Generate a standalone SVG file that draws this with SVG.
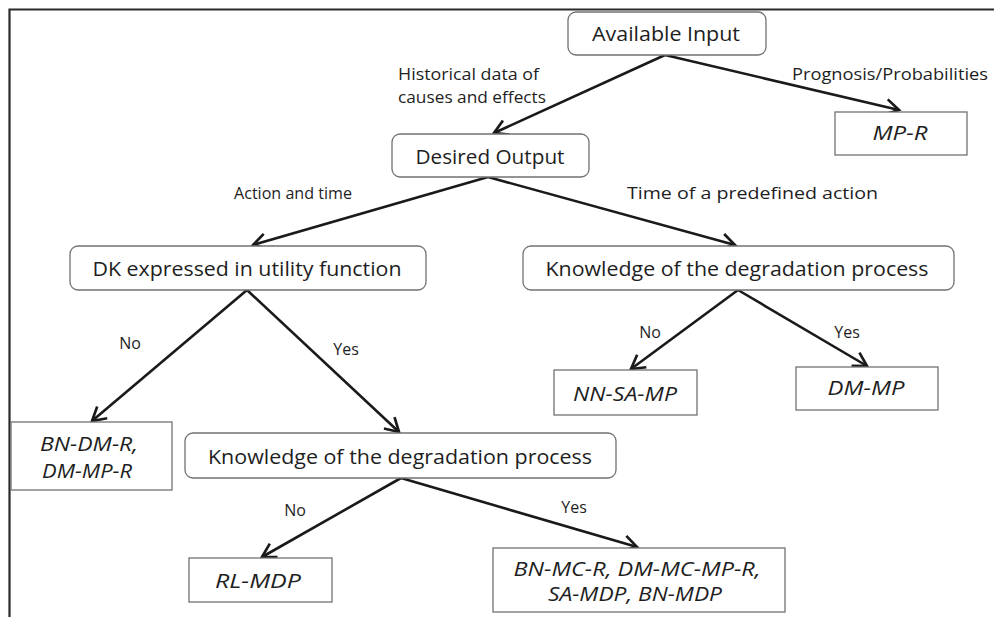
<svg xmlns="http://www.w3.org/2000/svg" width="994" height="617" viewBox="0 0 994 617">
<style>
.rbox{fill:#fff;stroke:#727272;stroke-width:1.3}
.box{fill:#fff;stroke:#727272;stroke-width:1.3}
.t{font-family:"Open Sans","Noto Sans",sans-serif;font-size:20px;fill:#1e1e1e;text-anchor:middle;dominant-baseline:central}
.ti{font-family:"Open Sans","Noto Sans",sans-serif;font-size:20px;font-style:italic;fill:#1e1e1e;text-anchor:middle;dominant-baseline:central}
.l{font-family:"Open Sans","Noto Sans",sans-serif;font-size:16px;fill:#1e1e1e;dominant-baseline:central}
.lc{font-family:"Open Sans","Noto Sans",sans-serif;font-size:16px;fill:#1e1e1e;dominant-baseline:central;text-anchor:middle}
.c{stroke:#1a1a1a;stroke-width:2.6;fill:none;marker-end:url(#ah)}
</style>
<defs>
<marker id="ah" viewBox="0 0 12 12" refX="10.5" refY="6" markerWidth="6.5" markerHeight="6.5" markerUnits="strokeWidth" orient="auto" overflow="visible">
<path d="M1,0.5 L10.5,6 L1,11.5" fill="none" stroke="#1a1a1a" stroke-width="1.9"/>
</marker>
</defs>
<rect width="994" height="617" fill="#fff"/>
<path d="M9.5,617 V9.5 H994" fill="none" stroke="#2a2a2a" stroke-width="2.2"/>
<g id="connectors">
<line class="c" x1="665" y1="55" x2="494" y2="133"/>
<line class="c" x1="665" y1="55" x2="899" y2="110"/>
<line class="c" x1="488" y1="177" x2="253" y2="245"/>
<line class="c" x1="488" y1="177" x2="735" y2="245"/>
<line class="c" x1="247" y1="290" x2="92" y2="421"/>
<line class="c" x1="247" y1="290" x2="399" y2="432"/>
<line class="c" x1="738" y1="290" x2="631" y2="369"/>
<line class="c" x1="738" y1="290" x2="867" y2="366"/>
<line class="c" x1="401" y1="478" x2="262" y2="557"/>
<line class="c" x1="401" y1="478" x2="637" y2="547"/>
<text class="l" x="398" y="74" textLength="141" lengthAdjust="spacingAndGlyphs">Historical data of</text>
<text class="l" x="398" y="97" textLength="148" lengthAdjust="spacingAndGlyphs">causes and effects</text>
<text class="l" x="792" y="74" textLength="196" lengthAdjust="spacingAndGlyphs">Prognosis/Probabilities</text>
<text class="l" x="234" y="193" textLength="118" lengthAdjust="spacingAndGlyphs">Action and time</text>
<text class="l" x="627" y="193" textLength="251" lengthAdjust="spacingAndGlyphs">Time of a predefined action</text>
<text class="lc" x="130" y="343">No</text>
<text class="lc" x="346" y="349">Yes</text>
<text class="lc" x="650" y="332">No</text>
<text class="lc" x="847" y="332">Yes</text>
<text class="lc" x="295" y="510">No</text>
<text class="lc" x="574" y="507">Yes</text>
</g>
<g id="available-input"><rect class="rbox" x="568" y="12" width="198" height="43" rx="8"/><text class="t" x="666" y="33" textLength="148" lengthAdjust="spacingAndGlyphs">Available Input</text></g>
<g id="mp-r"><rect class="box" x="835" y="112" width="132" height="43"/><text class="ti" x="900" y="132" textLength="55" lengthAdjust="spacingAndGlyphs">MP-R</text></g>
<g id="desired-output"><rect class="rbox" x="392" y="134" width="197" height="43" rx="8"/><text class="t" x="490" y="156" textLength="149" lengthAdjust="spacingAndGlyphs">Desired Output</text></g>
<g id="dk-utility"><rect class="rbox" x="70" y="246" width="356" height="44" rx="8"/><text class="t" x="247" y="268" textLength="309" lengthAdjust="spacingAndGlyphs">DK expressed in utility function</text></g>
<g id="knowledge-right"><rect class="rbox" x="523" y="246" width="431" height="44" rx="8"/><text class="t" x="737" y="268" textLength="383" lengthAdjust="spacingAndGlyphs">Knowledge of the degradation process</text></g>
<g id="nn-sa-mp"><rect class="box" x="554" y="370" width="143" height="45"/><text class="ti" x="625" y="393" textLength="104" lengthAdjust="spacingAndGlyphs">NN-SA-MP</text></g>
<g id="dm-mp"><rect class="box" x="796" y="367" width="142" height="43"/><text class="ti" x="866" y="387" textLength="77" lengthAdjust="spacingAndGlyphs">DM-MP</text></g>
<g id="bn-dm-r"><rect class="box" x="11" y="422" width="161" height="68"/><text class="ti" x="89" y="443" textLength="98" lengthAdjust="spacingAndGlyphs">BN-DM-R,</text><text class="ti" x="87" y="470" textLength="90" lengthAdjust="spacingAndGlyphs">DM-MP-R</text></g>
<g id="knowledge-bottom"><rect class="rbox" x="185" y="433" width="431" height="45" rx="8"/><text class="t" x="400" y="456" textLength="384" lengthAdjust="spacingAndGlyphs">Knowledge of the degradation process</text></g>
<g id="rl-mdp"><rect class="box" x="189" y="558" width="143" height="44"/><text class="ti" x="258" y="580" textLength="86" lengthAdjust="spacingAndGlyphs">RL-MDP</text></g>
<g id="bn-mc-r"><rect class="box" x="493" y="548" width="292" height="64"/><text class="ti" x="637" y="568" textLength="247" lengthAdjust="spacingAndGlyphs">BN-MC-R, DM-MC-MP-R,</text><text class="ti" x="635" y="593" textLength="174" lengthAdjust="spacingAndGlyphs">SA-MDP, BN-MDP</text></g>
</svg>
